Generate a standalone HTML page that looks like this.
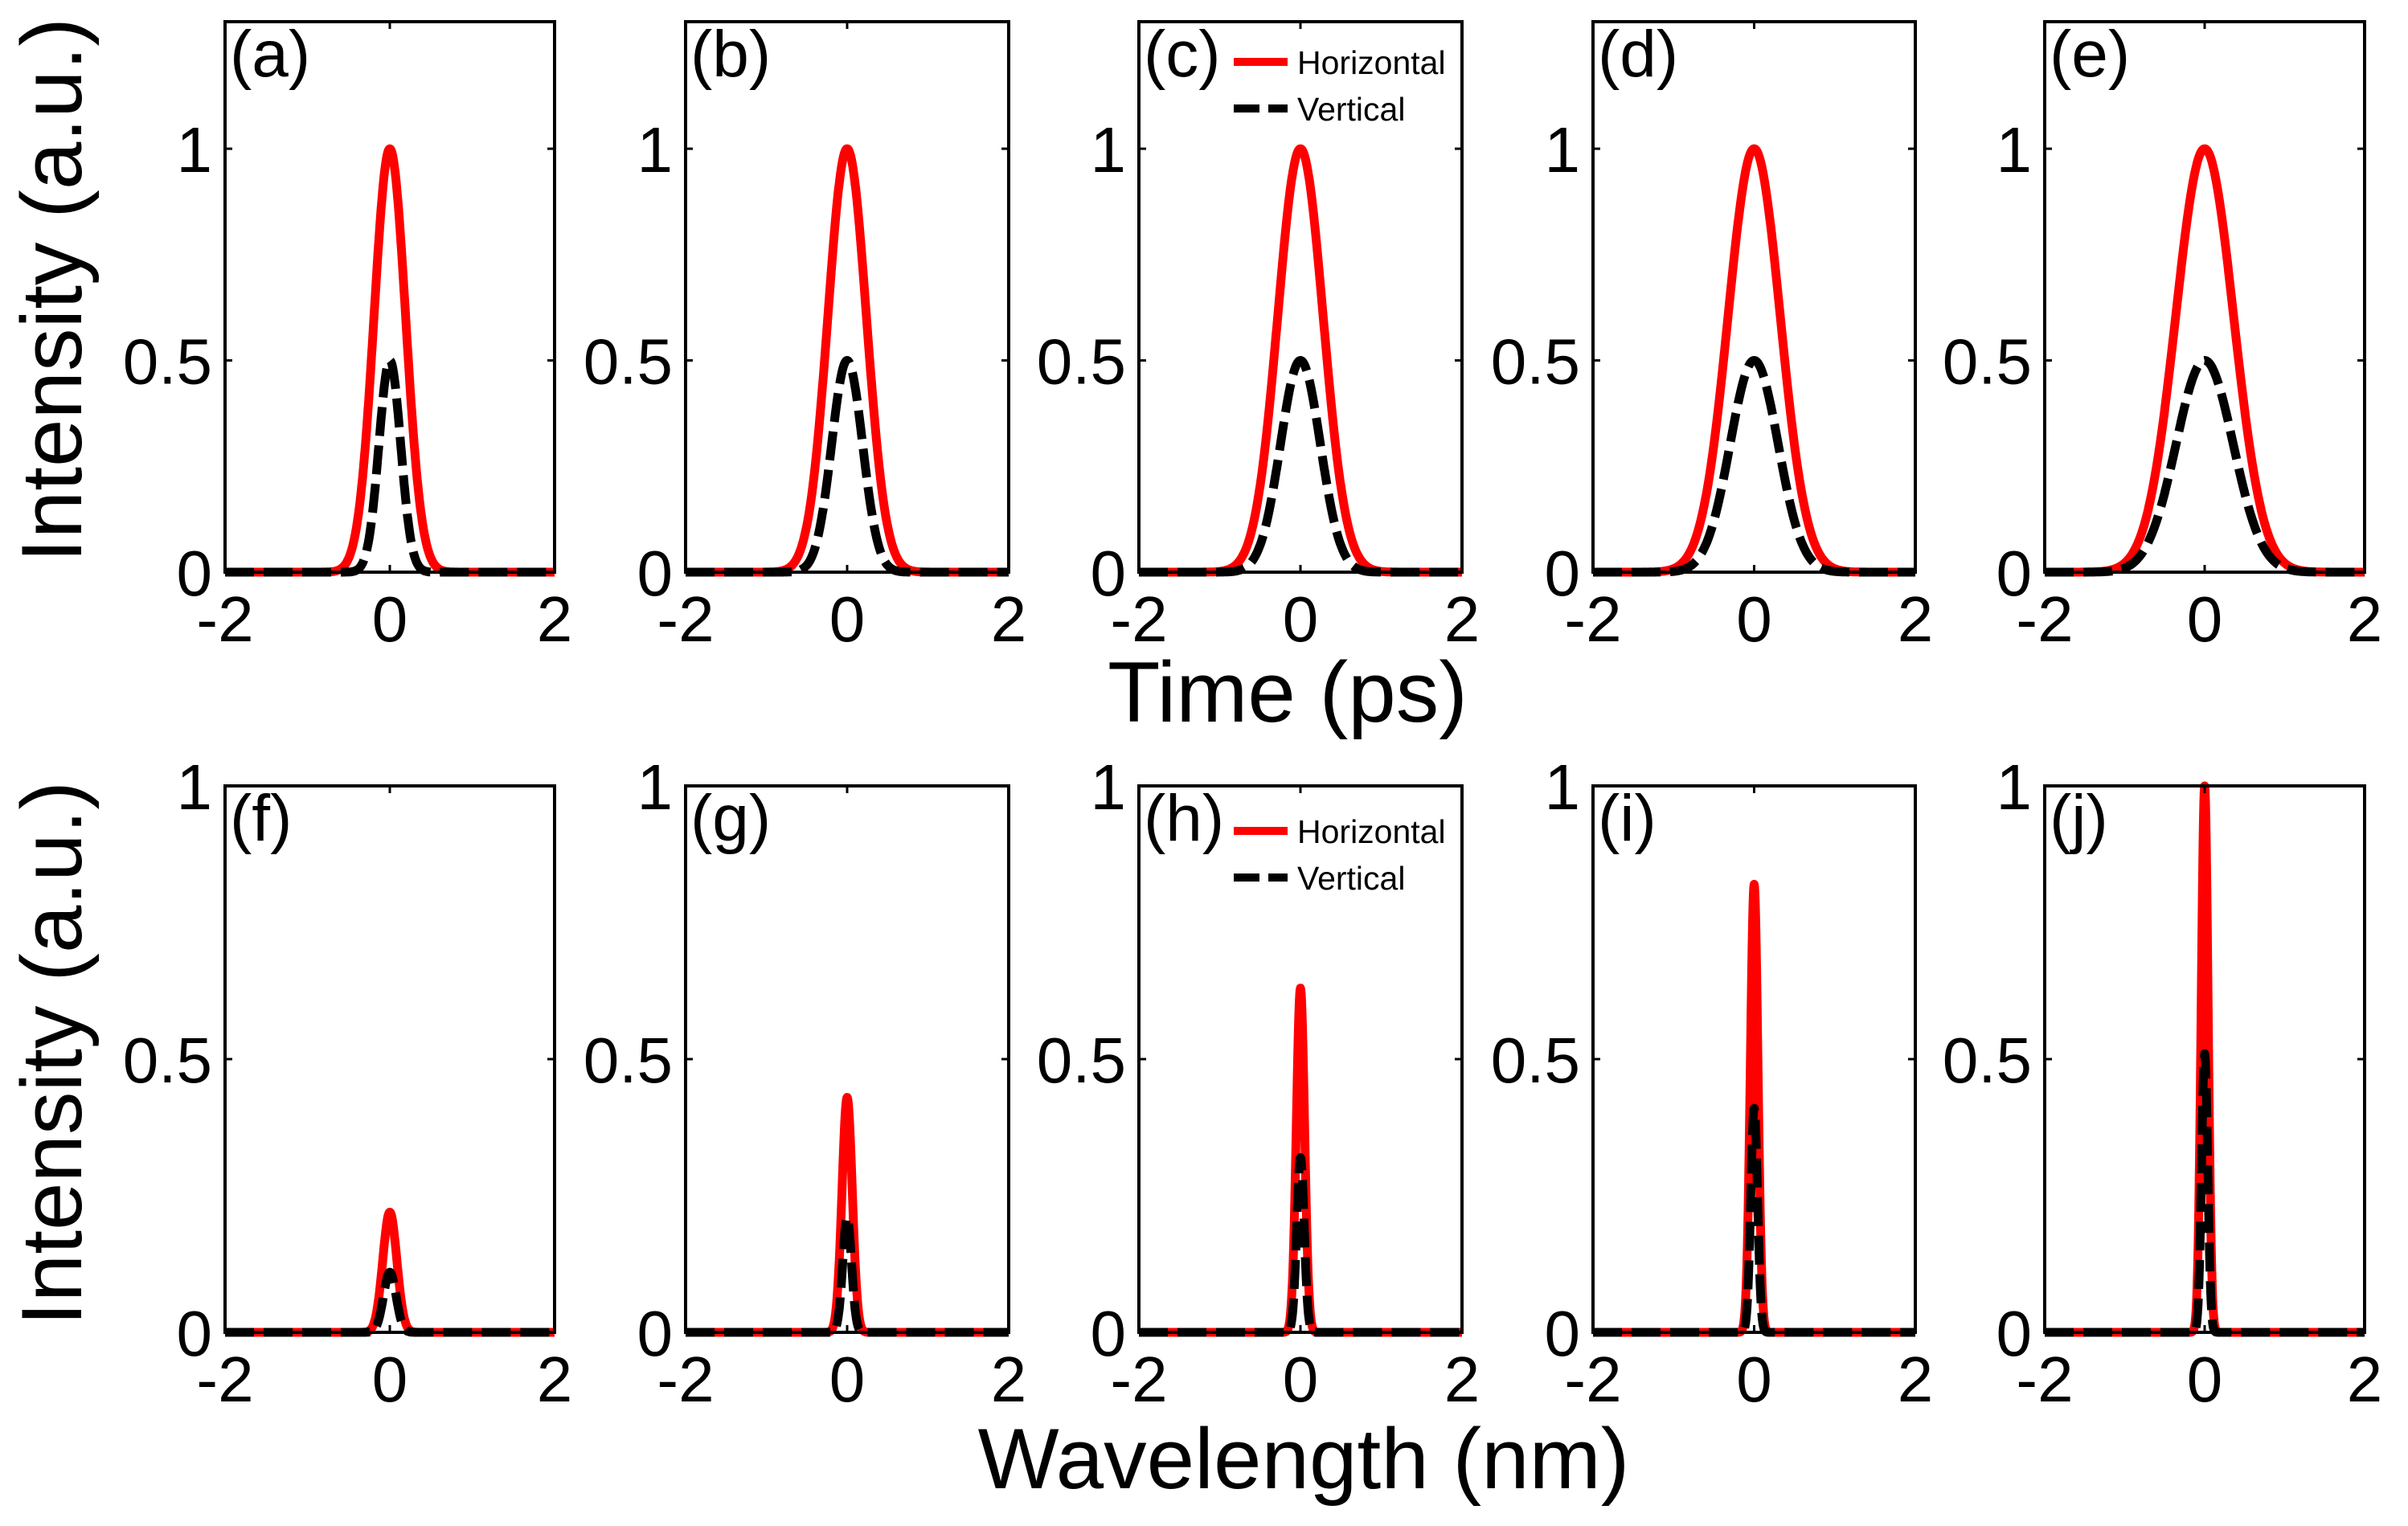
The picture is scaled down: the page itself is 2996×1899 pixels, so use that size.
<!DOCTYPE html>
<html><head><meta charset="utf-8"><style>
html,body{margin:0;padding:0;background:#fff;}
svg{display:block;font-family:"Liberation Sans",Arial,sans-serif;}
</style></head><body>
<svg id="fig" width="2996" height="1899" viewBox="0 0 2996 1899" xmlns="http://www.w3.org/2000/svg">
<rect x="0" y="0" width="2996" height="1899" fill="#fff"/>
<text transform="translate(101,361) rotate(-90)" font-size="107" text-anchor="middle">Intensity (a.u.)</text>
<text transform="translate(101,1311) rotate(-90)" font-size="107" text-anchor="middle">Intensity (a.u.)</text>
<text x="1602" y="898" font-size="107" text-anchor="middle">Time (ps)</text>
<text x="1622" y="1852" font-size="107" text-anchor="middle">Wavelength (nm)</text>
<g id="panels"></g>
</svg>
<script>
// ---- data ----
const panelLabels = ["(a)","(b)","(c)","(d)","(e)","(f)","(g)","(h)","(i)","(j)"];
const redPeak   = [1.0, 1.0, 1.0, 1.0, 1.0, 0.22, 0.43, 0.63, 0.82, 1.0];
const blackPeak = [0.5, 0.5, 0.5, 0.5, 0.5, 0.11, 0.21, 0.32, 0.41, 0.51];
const redFwhm   = [0.45, 0.56, 0.66, 0.76, 0.85, 0.20, 0.15, 0.12, 0.11, 0.10];
const blackFwhm = [0.31, 0.45, 0.58, 0.70, 0.84, 0.18, 0.13, 0.11, 0.10, 0.09];
const xTicks = [-2, 0, 2];
const xTickLabels = ["-2","0","2"];
const yTicksTop = [0, 0.5, 1];
const yTickLabelsTop = ["0","0.5","1"];
const yTicksBottom = [0, 0.5, 1];
const yTickLabelsBottom = ["0","0.5","1"];
const legendEntries = ["Horizontal","Vertical"];

// ---- layout ----
const NS = "http://www.w3.org/2000/svg";
const lefts  = [280, 853, 1417, 1982, 2544];
const rights = [690, 1255, 1819, 2383, 2942];
const rows = [{top:27, bottom:712, ymax:1.3}, {top:978, bottom:1658, ymax:1.0}];
const root = document.getElementById("panels");

function mk(tag, attrs, parent){
  const e = document.createElementNS(NS, tag);
  for (const k in attrs) e.setAttribute(k, attrs[k]);
  parent.appendChild(e);
  return e;
}

for (let i = 0; i < 10; i++){
  const r = rows[i < 5 ? 0 : 1];
  const L = lefts[i % 5], R = rights[i % 5];
  const sx = v => L + (v + 2) / 4 * (R - L);
  const y0 = r.bottom;
  const sy = v => y0 - v / r.ymax * (r.bottom - r.top);
  const g = mk("g", {}, root);
  
  

  function curve(peak, fwhm, stroke, dash, name){
    const sig = fwhm / 2.3548;
    let d = "";
    for (let k = 0; k <= 800; k++){
      const x = -2 + 4 * k / 800;
      const v = peak * Math.exp(-x * x / (2 * sig * sig));
      d += (k ? "L" : "M") + sx(x).toFixed(1) + "," + sy(v).toFixed(1);
    }
    const p = mk("path", {d:d, fill:"none", stroke:stroke, "stroke-width":"11", "stroke-linejoin":"round"}, g);
    if (dash) p.setAttribute("stroke-dasharray", dash);
    
    
  }
  curve(redPeak[i], redFwhm[i], "#ff0000", null, "horizontal-line");
  curve(blackPeak[i], blackFwhm[i], "#000000", "36,12", "vertical-line");

  const box = mk("rect", {x:L, y:r.top, width:R-L, height:r.bottom-r.top, fill:"none", stroke:"#000", "stroke-width":"4"}, g);
  
  

  xTicks.forEach((t, j) => {
    const X = sx(t);
    mk("line", {x1:X, y1:r.bottom, x2:X, y2:r.bottom-9, stroke:"#000", "stroke-width":"3"}, g);
    mk("line", {x1:X, y1:r.top, x2:X, y2:r.top+9, stroke:"#000", "stroke-width":"3"}, g);
    const tl = mk("text", {x:X, y:r.bottom+86, "font-size":"80", "text-anchor":"middle"}, g);
    tl.textContent = xTickLabels[j];
    
    
  });
  const yt = i < 5 ? yTicksTop : yTicksBottom;
  const ytl = i < 5 ? yTickLabelsTop : yTickLabelsBottom;
  yt.forEach((t, j) => {
    const Y = sy(t);
    mk("line", {x1:L, y1:Y, x2:L+9, y2:Y, stroke:"#000", "stroke-width":"3"}, g);
    mk("line", {x1:R, y1:Y, x2:R-9, y2:Y, stroke:"#000", "stroke-width":"3"}, g);
    const tl = mk("text", {x:L-16, y:Y+29, "font-size":"80", "text-anchor":"end"}, g);
    tl.textContent = ytl[j];
    
    
  });

  const pl = mk("text", {x:L+6, y:r.top+68, "font-size":"82"}, g);
  pl.textContent = panelLabels[i];
  
  

  if (i === 2 || i === 7){
    const lg = mk("g", {}, g);
    
    
    const off = i === 2 ? 50 : 56;
    const ly1 = r.top + off, ly2 = r.top + off + 58;
    mk("line", {x1:L+118, y1:ly1, x2:L+185, y2:ly1, stroke:"#ff0000", "stroke-width":"10"}, lg);
    mk("line", {x1:L+118, y1:ly2, x2:L+185, y2:ly2, stroke:"#000", "stroke-width":"10", "stroke-dasharray":"32,11"}, lg);
    const t1 = mk("text", {x:L+197, y:ly1+15, "font-size":"41"}, lg);
    t1.textContent = legendEntries[0];
    
    
    const t2 = mk("text", {x:L+197, y:ly2+15, "font-size":"41"}, lg);
    t2.textContent = legendEntries[1];
    
    
  }
}
</script>
</body></html>
